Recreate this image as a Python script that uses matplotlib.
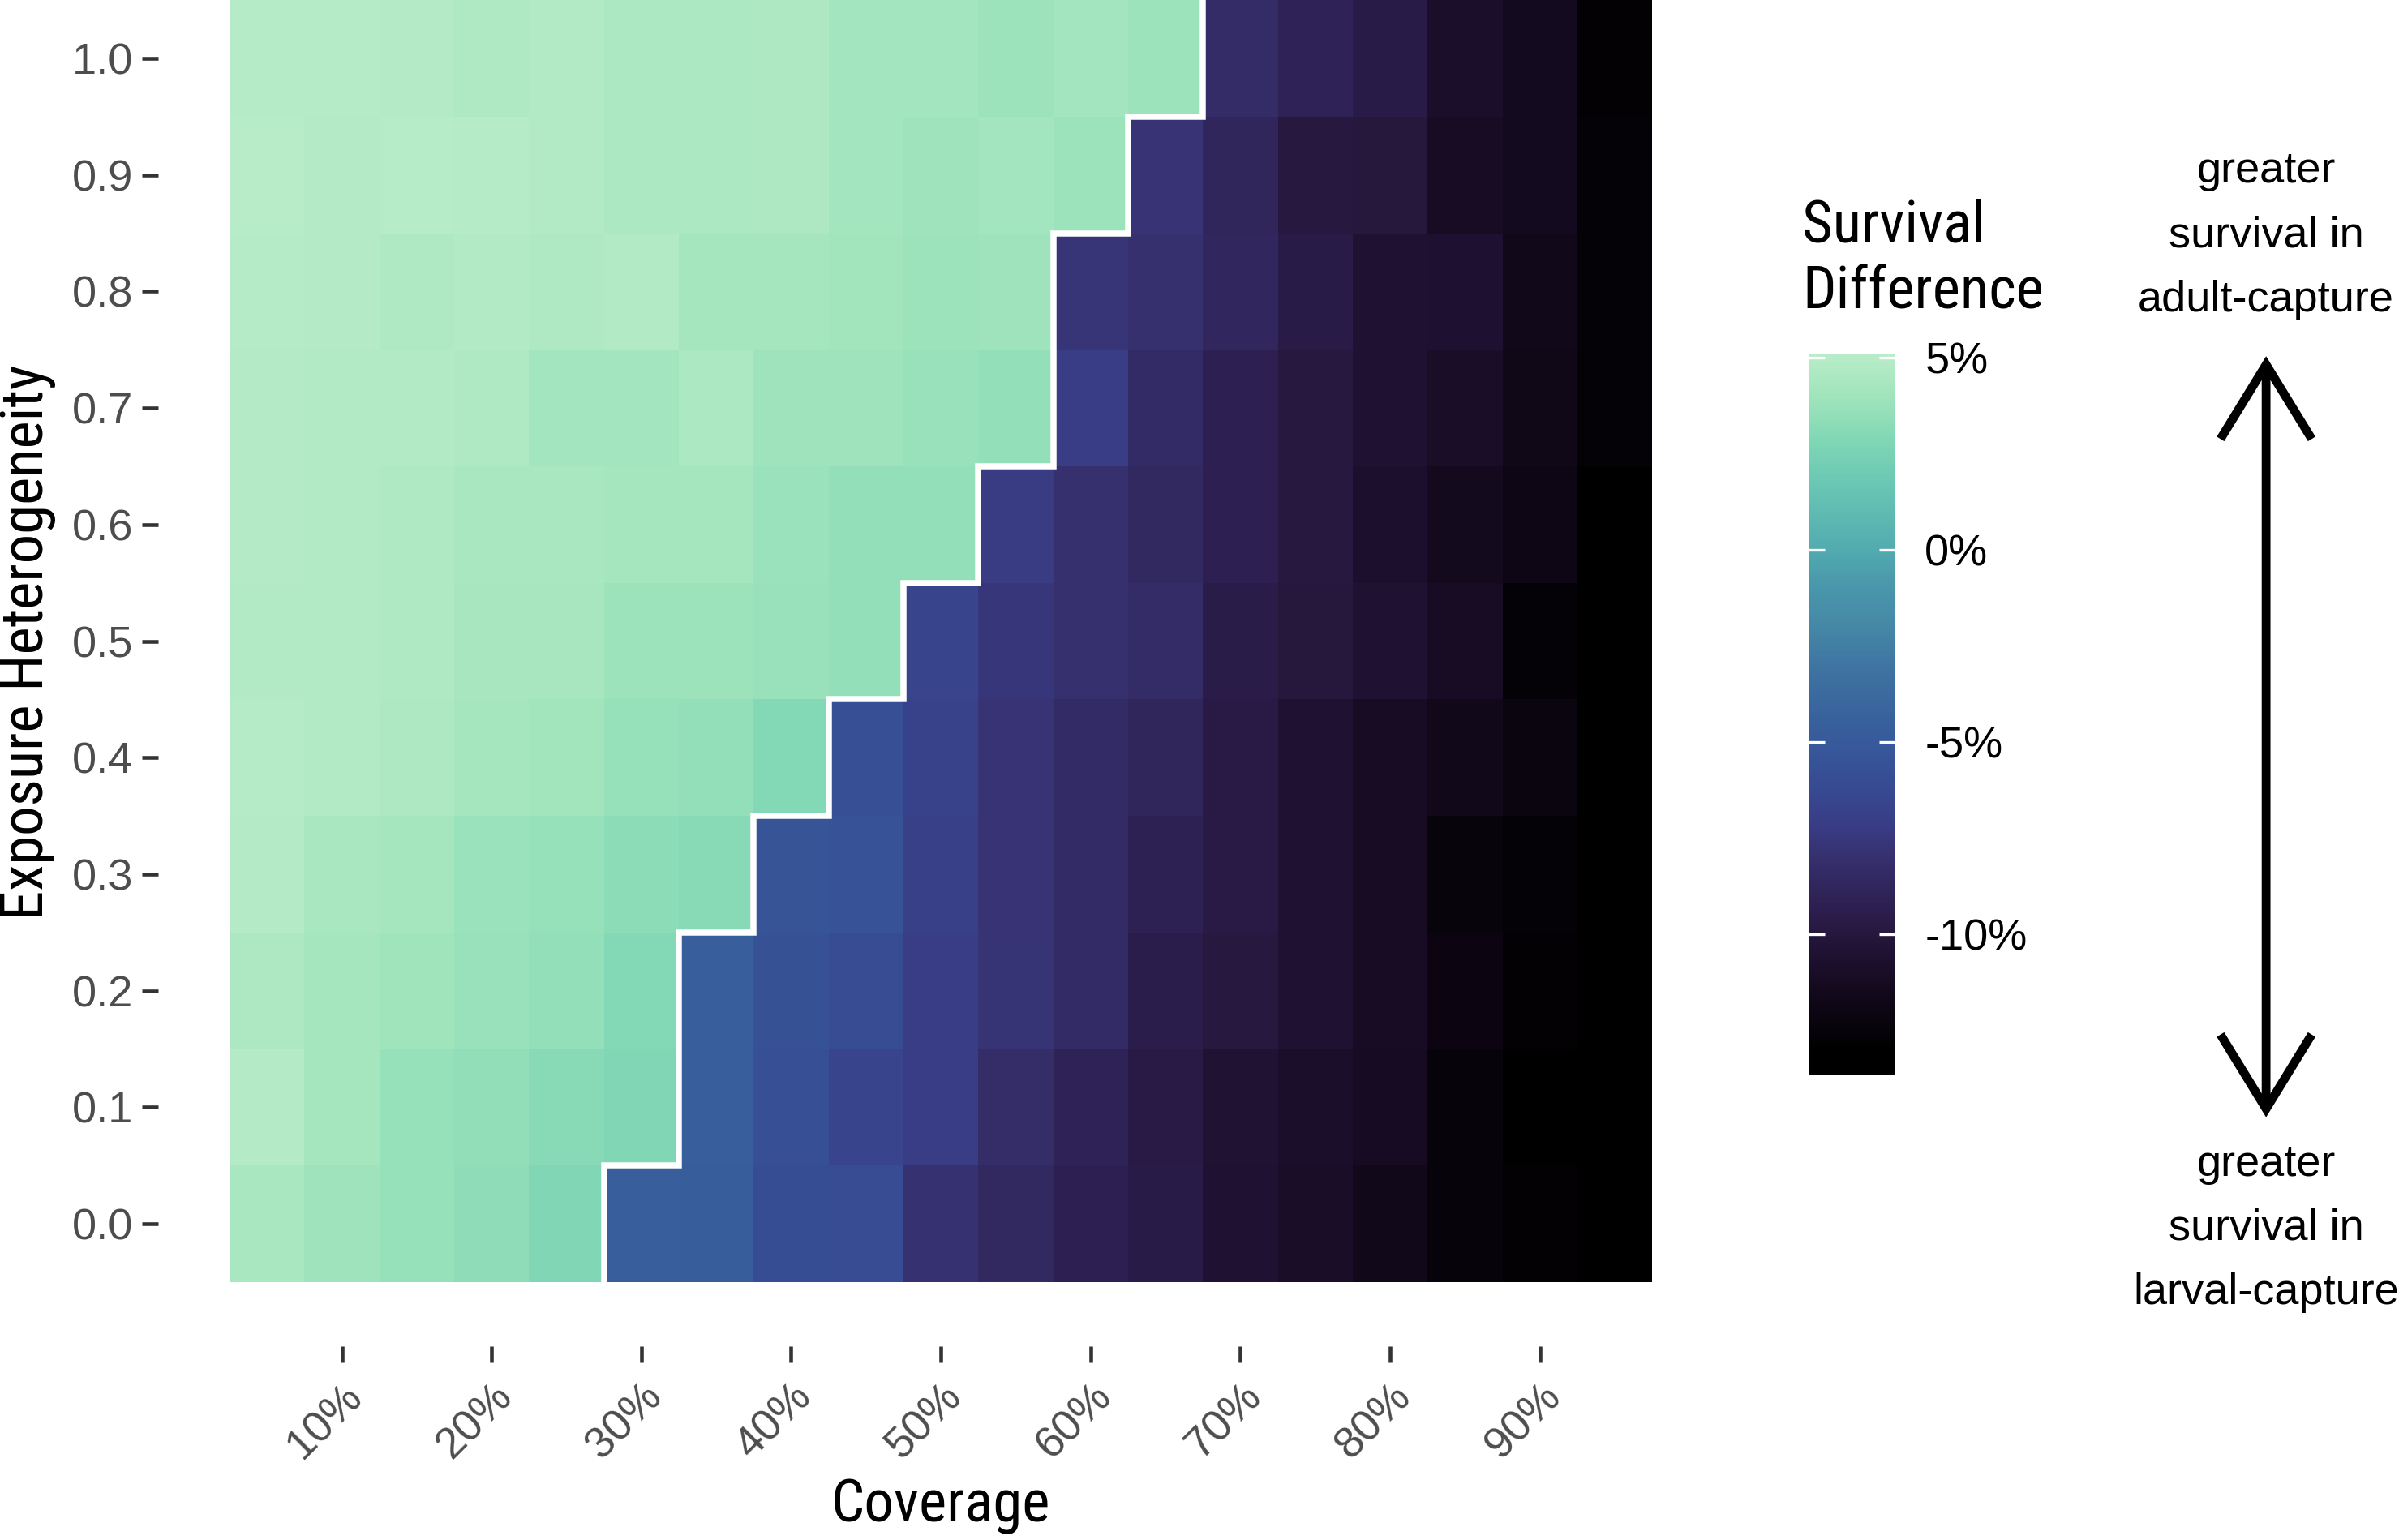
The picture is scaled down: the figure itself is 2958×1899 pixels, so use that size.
import numpy as np
import matplotlib
matplotlib.use("Agg")
import matplotlib.pyplot as plt
from matplotlib.colors import LinearSegmentedColormap, Normalize
from matplotlib.patches import FancyArrowPatch

# ---------------- data ----------------
coverage = [5, 10, 15, 20, 25, 30, 35, 40, 45, 50, 55, 60, 65, 70, 75, 80, 85, 90, 95]   # %
heterogeneity = [0.0, 0.1, 0.2, 0.3, 0.4, 0.5, 0.6, 0.7, 0.8, 0.9, 1.0]
x_ticks = [10, 20, 30, 40, 50, 60, 70, 80, 90]
x_tick_labels = ["10%", "20%", "30%", "40%", "50%", "60%", "70%", "80%", "90%"]
y_ticks = [0.0, 0.1, 0.2, 0.3, 0.4, 0.5, 0.6, 0.7, 0.8, 0.9, 1.0]
y_tick_labels = ["0.0", "0.1", "0.2", "0.3", "0.4", "0.5", "0.6", "0.7", "0.8", "0.9", "1.0"]
cbar_ticks = [-10, -5, 0, 5]
cbar_tick_labels = ["-10%", "-5%", "0%", "5%"]

# survival difference (%), one list per heterogeneity level (0.0 ... 1.0), across coverage
diff_h00 = [4.35, 3.92, 3.62, 3.34, 2.89, -4.65, -4.70, -5.96, -6.03, -7.94, -8.53, -9.26, -9.63, -10.51, -11.02, -11.67, -12.48, -12.78, -13.66]
diff_h01 = [4.87, 4.22, 3.62, 3.49, 3.11, 2.89, -4.57, -5.75, -6.56, -7.14, -8.23, -9.03, -9.71, -10.44, -10.79, -11.24, -12.48, -13.62, -13.66]
diff_h02 = [4.57, 4.22, 3.99, 3.69, 3.54, 2.96, -4.57, -5.68, -6.03, -7.14, -7.72, -8.38, -9.48, -9.91, -10.51, -11.17, -12.05, -12.78, -13.66]
diff_h03 = [4.87, 4.42, 4.22, 3.77, 3.62, 3.26, 3.11, -5.45, -5.60, -6.91, -7.79, -8.38, -9.18, -9.71, -10.51, -11.17, -12.40, -12.70, -13.66]
diff_h04 = [4.95, 4.80, 4.57, 4.22, 4.07, 3.62, 3.54, 2.96, -5.75, -6.76, -7.79, -8.38, -8.75, -9.71, -10.51, -11.17, -11.60, -12.10, -13.66]
diff_h05 = [4.80, 4.80, 4.65, 4.29, 4.29, 3.84, 3.84, 3.69, 3.54, -6.63, -7.57, -8.02, -8.30, -9.56, -9.99, -10.51, -11.09, -12.63, -13.66]
diff_h06 = [4.87, 4.72, 4.65, 4.35, 4.35, 4.22, 4.22, 3.77, 3.54, 3.54, -7.21, -8.02, -8.53, -9.26, -9.91, -10.72, -11.45, -11.90, -13.66]
diff_h07 = [4.87, 4.72, 4.72, 4.65, 4.14, 4.14, 4.50, 3.92, 3.92, 3.69, 3.54, -7.14, -8.38, -9.26, -9.91, -10.51, -10.94, -11.75, -12.63]
diff_h08 = [4.95, 4.87, 4.65, 4.72, 4.65, 4.72, 4.22, 4.22, 4.07, 3.84, 3.92, -7.64, -8.02, -8.68, -9.63, -10.51, -10.57, -11.67, -12.63]
diff_h09 = [5.08, 4.87, 5.02, 4.95, 4.72, 4.50, 4.50, 4.57, 4.14, 3.92, 4.14, 3.84, -7.79, -8.75, -9.91, -9.99, -11.09, -11.37, -12.63]
diff_h10 = [4.95, 4.95, 4.87, 4.65, 4.72, 4.50, 4.50, 4.57, 4.14, 4.14, 3.84, 4.14, 3.84, -8.30, -9.03, -9.63, -10.79, -11.37, -12.78]

Z = np.array([diff_h00, diff_h01, diff_h02, diff_h03, diff_h04, diff_h05,
              diff_h06, diff_h07, diff_h08, diff_h09, diff_h10])

# ---------------- style ----------------
TICK_FONT = "Liberation Sans"
TITLE_FONT = "Roboto Condensed"
GREY30 = "#4d4d4d"

# mako-like palette as it appears in the reference colour bar
palette_stops = [(0.0, "#000000"), (0.034, "#000000"), (0.099, "#0f0716"), (0.164, "#1e1030"),
                 (0.197, "#26183e"), (0.229, "#2c1e4e"), (0.294, "#352e6a"), (0.339, "#393a82"),
                 (0.391, "#374890"), (0.456, "#37589a"), (0.489, "#38609c"), (0.554, "#3d70a0"),
                 (0.618, "#4586a6"), (0.683, "#4a98ab"), (0.732, "#52acb0"), (0.813, "#68c4b4"),
                 (0.878, "#7ed6b4"), (0.943, "#a0e4bc"), (1.0, "#b8ecc8")]
cmap = LinearSegmentedColormap.from_list("mako_ref", palette_stops, N=512)

W, H = 2958, 1899
DPI = 300
fig = plt.figure(figsize=(W / DPI, H / DPI), dpi=DPI)
fig.patch.set_facecolor("white")

norm = Normalize(vmin=Z.min(), vmax=Z.max())

ax = fig.add_axes([0.06603, 0.12586, 0.65233, 0.9157])
cov = np.array(coverage, dtype=float)
het = np.array(heterogeneity, dtype=float)
dx = cov[1] - cov[0]
dy = het[1] - het[0]
x_edges = np.concatenate([cov - dx / 2, [cov[-1] + dx / 2]])
y_edges = np.concatenate([het - dy / 2, [het[-1] + dy / 2]])
mesh = ax.pcolormesh(x_edges, y_edges, Z, cmap=cmap, norm=norm, shading="flat",
                     edgecolors="none", antialiased=False)

# white boundary separating positive and negative differences
bx, by = [], []
for i, row in enumerate(Z):
    k = int(np.argmax(row < 0)) if np.any(row < 0) else len(row)
    xe = x_edges[k]
    bx += [xe, xe]
    by += [y_edges[i], y_edges[i + 1]]
ax.plot(bx, by, color="white", lw=1.8, solid_joinstyle="miter", solid_capstyle="butt", zorder=3)

xr = x_edges[-1] - x_edges[0]
yr = y_edges[-1] - y_edges[0]
ax.set_xlim(x_edges[0] - 0.05 * xr, x_edges[-1] + 0.05 * xr)
ax.set_ylim(y_edges[0] - 0.05 * yr, y_edges[-1] + 0.05 * yr)
for s in ax.spines.values():
    s.set_visible(False)
ax.set_facecolor("white")

ax.set_xticks(x_ticks)
ax.set_xticklabels(x_tick_labels, rotation=45, ha="right", va="top",
                   rotation_mode="anchor", fontfamily=TICK_FONT, fontsize=13, color=GREY30)
ax.set_yticks(y_ticks)
ax.set_yticklabels(y_tick_labels, fontfamily=TICK_FONT, fontsize=13, color=GREY30)
ax.tick_params(axis="both", direction="out", length=4.8, width=1.1, color="#333333")
ax.tick_params(axis="x", pad=4)
ax.tick_params(axis="y", pad=2.6)

fig.text(0.3922, 0.0216, "Coverage", ha="center", va="center",
         fontfamily=TITLE_FONT, fontsize=17.5, color="black")
fig.text(0.0115, 0.583, "Exposure Heterogeneity", ha="center", va="center",
         rotation=90, fontfamily=TITLE_FONT, fontsize=17.5, color="black")

# ---------------- colorbar ----------------
cax = fig.add_axes([0.7539, 0.3017, 0.0362, 0.4681])
cb = fig.colorbar(mesh, cax=cax)
cb.outline.set_visible(False)
cb.set_ticks(cbar_ticks)
cb.set_ticklabels(cbar_tick_labels)
cax.tick_params(axis="y", direction="in", length=4.8, width=0.8, color="white",
                left=True, right=True, labelleft=False, labelright=True, pad=8.7,
                labelsize=13, labelcolor="black")
for t in cax.get_yticklabels():
    t.set_fontfamily(TICK_FONT)

fig.text(0.7512, 0.792, "Survival\nDifference", ha="left", va="bottom",
         fontfamily=TITLE_FONT, fontsize=17.5, color="black", linespacing=1.23)

# ---------------- annotation arrow ----------------
arrow = FancyArrowPatch((0.9446, 0.7687), (0.9446, 0.2745), transform=fig.transFigure,
                        arrowstyle="<->,head_length=22,head_width=13.5",
                        mutation_scale=1, lw=2.6, color="black",
                        shrinkA=0, shrinkB=0, capstyle="butt", joinstyle="miter")
fig.patches.append(arrow)

fig.text(0.9446, 0.8469, "greater\nsurvival in\nadult-capture", ha="center", va="center",
         fontfamily=TICK_FONT, fontsize=13, color="black", linespacing=1.75)
fig.text(0.9446, 0.2023, "greater\nsurvival in\nlarval-capture", ha="center", va="center",
         fontfamily=TICK_FONT, fontsize=13, color="black", linespacing=1.75)

fig.savefig("out.png", dpi=DPI, facecolor="white")
